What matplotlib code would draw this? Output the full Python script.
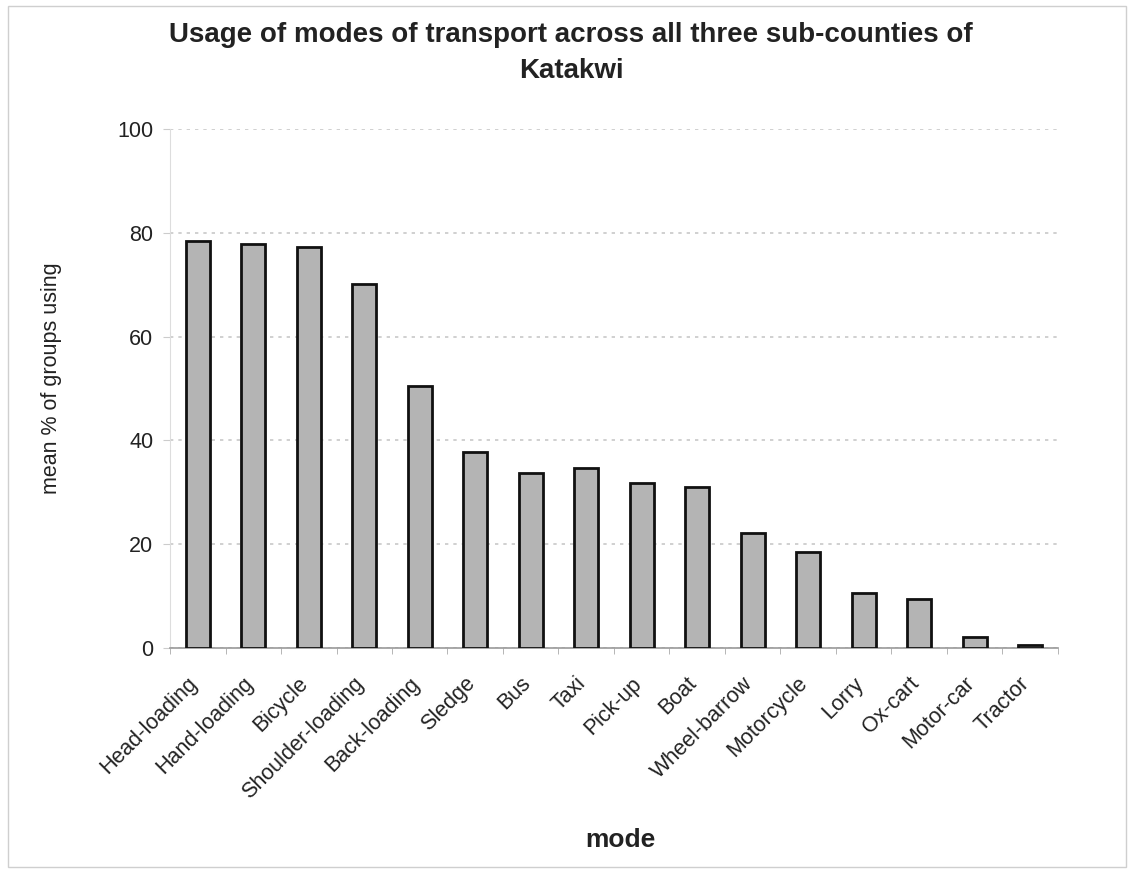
import matplotlib
matplotlib.use("Agg")
import matplotlib.pyplot as plt
import matplotlib.transforms as mtransforms
from matplotlib.patches import Rectangle

plt.rcParams['font.family'] = ['Liberation Sans', 'DejaVu Sans']

modes = ["Head-loading", "Hand-loading", "Bicycle", "Shoulder-loading", "Back-loading",
         "Sledge", "Bus", "Taxi", "Pick-up", "Boat", "Wheel-barrow", "Motorcycle",
         "Lorry", "Ox-cart", "Motor-car", "Tractor"]
mean_pct = [78.5, 77.9, 77.3, 70.2, 50.4, 37.7, 33.8, 34.6, 31.7, 31.0,
            22.1, 18.5, 10.6, 9.4, 2.1, 0.5]
y_ticks = [0, 20, 40, 60, 80, 100]

W, H = 1134, 871
fig = plt.figure(figsize=(W / 100, H / 100), dpi=100)
ax = fig.add_axes([170 / W, 1 - 648 / H, (1058 - 170) / W, (648 - 129) / H])

x = range(len(modes))
ax.bar(x, mean_pct, width=0.43, color="#b4b4b4", edgecolor="#111111", linewidth=2, zorder=3)

ax.set_xlim(-0.5, len(modes) - 0.5)
ax.set_ylim(0, 100)
ax.set_yticks(y_ticks)
ax.set_yticklabels([str(v) for v in y_ticks], fontsize=15.5, color="#222222")
ax.yaxis.grid(True, linestyle=(0, (2, 3)), color="#c8c8c8", linewidth=1.2, zorder=0)

ax.set_xticks(list(x))
ax.set_xticklabels(modes, rotation=45, ha="right", rotation_mode="anchor", fontsize=15.5,
                   color="#222222")
ax.tick_params(axis="x", length=0, pad=18)
shift = mtransforms.ScaledTranslation(-11 / 100, 0, fig.dpi_scale_trans)
for lbl in ax.get_xticklabels():
    lbl.set_transform(lbl.get_transform() + shift)
ax.set_xticks([i + 0.5 for i in range(-1, len(modes))], minor=True)
ax.tick_params(axis="x", which="minor", length=4, color="#aaaaaa")
ax.tick_params(axis="y", length=5, color="#cccccc", pad=7)

for side in ("top", "right"):
    ax.spines[side].set_visible(False)
ax.spines["left"].set_color("#dddddd")
ax.spines["bottom"].set_color("#999999")
ax.spines["bottom"].set_linewidth(1.2)

fig.text(52 / W, 1 - 378 / H, "mean % of groups using", fontsize=15.5, color="#222222",
         rotation=90, ha="center", va="center")
fig.text(620 / W, 1 - 840 / H, "mode", fontsize=19, fontweight="bold", ha="center",
         va="center", color="#222222")
fig.text(571 / W, 1 - 53 / H, "Usage of modes of transport across all three sub-counties of\nKatakwi",
         fontsize=20, fontweight="bold", ha="center", va="center", color="#222222",
         linespacing=1.5)

fig.patches.append(Rectangle((8 / W, 4 / H), 1 - 16 / W, 1 - 10 / H,
                             transform=fig.transFigure, fill=False,
                             edgecolor="#cfcfcf", linewidth=1))

fig.savefig("out.png", dpi=100, facecolor="white")
